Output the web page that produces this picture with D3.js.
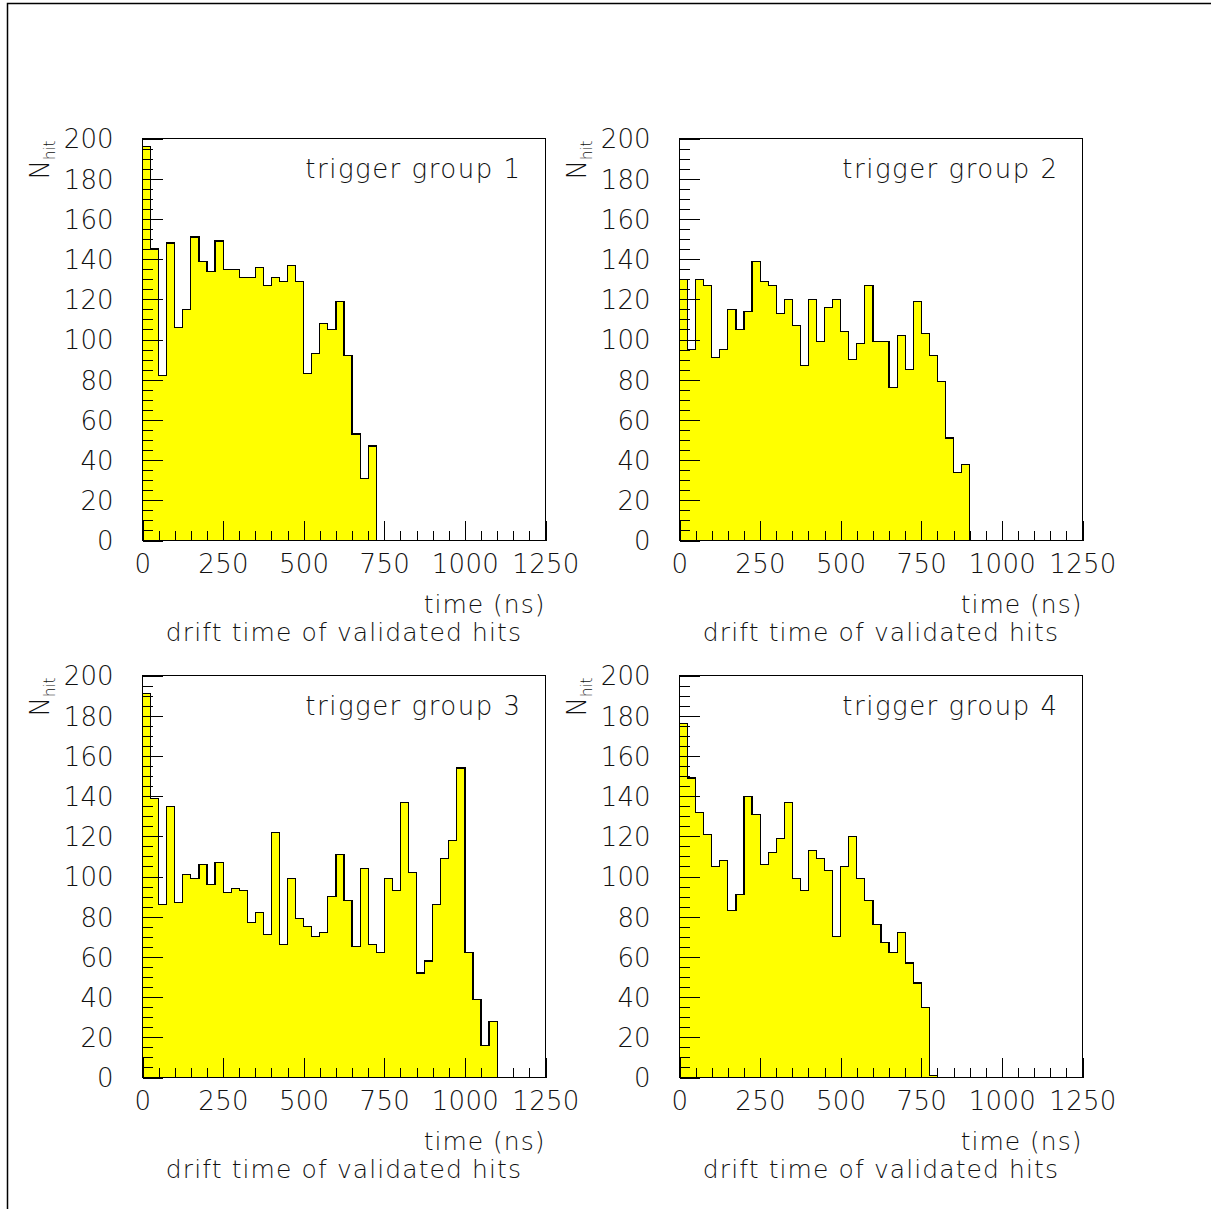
<!DOCTYPE html>
<html>
<head>
<meta charset="utf-8">
<script src="https://cdn.jsdelivr.net/npm/d3@7"></script>
<style>
  body { margin: 0; background: #fff; }
  text { font-family: "DejaVu Sans", sans-serif; font-weight: 200; fill: #111; }
</style>
</head>
<body>
<div id="vis"></div>
<script>
// bin width in ns, histograms go from 0 to 1250 ns
const BIN_WIDTH = 25;
const X_MAX = 1250;
const Y_MAX = 200;
const X_TICKS = [0, 250, 500, 750, 1000, 1250];
const Y_TICKS = [0, 20, 40, 60, 80, 100, 120, 140, 160, 180, 200];

// hits per 25 ns bin (bins after the last one are empty)
const group1 = [196, 145, 82, 148, 106, 115, 151, 139, 134, 149, 135, 135, 131, 131, 136,
                127, 131, 129, 137, 129, 83, 93, 108, 105, 119, 92, 53, 31, 47];
const group2 = [130, 95, 130, 127, 91, 95, 115, 105, 114, 139, 129, 127, 113, 120, 107,
                87, 120, 99, 116, 120, 104, 90, 98, 127, 99, 99, 76, 102, 85, 119,
                103, 92, 79, 51, 34, 38];
const group3 = [191, 139, 86, 135, 87, 101, 99, 106, 96, 107, 92, 94, 93, 77, 82,
                71, 122, 66, 99, 79, 75, 70, 72, 90, 111, 88, 65, 104, 66, 62,
                99, 93, 137, 102, 52, 58, 86, 109, 118, 154, 62, 39, 16, 28];
const group4 = [176, 149, 132, 121, 105, 108, 83, 91, 140, 131, 106, 112, 119, 137, 99,
                93, 113, 109, 103, 70, 105, 120, 99, 88, 76, 67, 62, 72, 57, 47,
                35, 1];

const groups = [group1, group2, group3, group4];
const titles = ["trigger group 1", "trigger group 2", "trigger group 3", "trigger group 4"];
const xTitle = "time (ns)";
const histTitle = "drift time of validated hits";

function init() {
    const W = 1211, H = 1209;
    const svg = d3.select('#vis')
        .append('svg')
        .attr('width', W)
        .attr('height', H);

    // page border (top + left)
    svg.append('path')
        .attr('d', 'M7.5,1209 L7.5,3.5 L1211,3.5')
        .attr('fill', 'none')
        .attr('stroke', '#000')
        .attr('stroke-width', 1.5);

    const pw = 403, ph = 402;
    const origins = [[142, 138], [679, 138], [142, 675], [679, 675]];

    groups.forEach((values, k) => {
        drawPanel(svg, values, titles[k], origins[k][0], origins[k][1], pw, ph);
    });
}

function drawPanel(svg, values, title, left, top, width, height) {
    const g = svg.append('g')
        .attr('transform', `translate(${left + 0.5},${top + 0.5})`);

    const xScale = d3.scaleLinear().domain([0, X_MAX]).range([0, width]);
    const yScale = d3.scaleLinear().domain([0, Y_MAX]).range([height, 0]);

    // histogram, step outline filled yellow
    const pts = values.map((v, i) => [i * BIN_WIDTH, v]);
    pts.push([values.length * BIN_WIDTH, values[values.length - 1]]);
    const area = d3.area()
        .x(d => xScale(d[0]))
        .y0(yScale(0))
        .y1(d => yScale(d[1]))
        .curve(d3.curveStepAfter);
    g.append('path')
        .datum(pts)
        .attr('d', area)
        .attr('fill', '#ffff00')
        .attr('stroke', '#000')
        .attr('stroke-width', 1.2)
        .attr('shape-rendering', 'crispEdges');

    // frame
    g.append('rect')
        .attr('width', width)
        .attr('height', height)
        .attr('fill', 'none')
        .attr('stroke', '#000')
        .attr('stroke-width', 1.2)
        .attr('shape-rendering', 'crispEdges');

    // minor ticks
    g.append('g')
        .attr('transform', `translate(0,${height})`)
        .call(d3.axisBottom(xScale).tickValues(d3.range(0, X_MAX + 1, 50))
            .tickSizeInner(-10).tickSizeOuter(0).tickFormat(''));
    g.append('g')
        .call(d3.axisLeft(yScale).tickValues(d3.range(0, Y_MAX + 1, 5))
            .tickSizeInner(-10).tickSizeOuter(0).tickFormat(''));

    // major ticks + labels
    const xAxis = g.append('g')
        .attr('transform', `translate(0,${height})`)
        .call(d3.axisBottom(xScale).tickValues(X_TICKS)
            .tickSizeInner(-20).tickSizeOuter(0).tickPadding(14)
            .tickFormat(d3.format('d')));
    const yAxis = g.append('g')
        .call(d3.axisLeft(yScale).tickValues(Y_TICKS)
            .tickSizeInner(-20).tickSizeOuter(0).tickPadding(29)
            .tickFormat(d3.format('d')));

    g.selectAll('.domain').remove();
    g.selectAll('.tick line').attr('stroke', '#000').attr('shape-rendering', 'crispEdges');
    xAxis.selectAll('text').style('font-size', '26px').style('letter-spacing', '0.3px')
        .style('font-family', '"DejaVu Sans", sans-serif').attr('fill', '#111');
    yAxis.selectAll('text').style('font-size', '26px')
        .style('font-family', '"DejaVu Sans", sans-serif').attr('fill', '#111')
        .attr('dy', '0.36em');

    // titles
    g.append('text')
        .attr('x', width - 24)
        .attr('y', 39)
        .attr('text-anchor', 'end')
        .style('font-size', '26px')
        .style('letter-spacing', '1.5px')
        .text(title);

    g.append('text')
        .attr('x', width)
        .attr('y', height + 72)
        .attr('text-anchor', 'end')
        .style('font-size', '25px')
        .style('letter-spacing', '1px')
        .text(xTitle);

    g.append('text')
        .attr('x', width / 2)
        .attr('y', height + 100)
        .attr('text-anchor', 'middle')
        .style('font-size', '25px')
        .style('letter-spacing', '1.1px')
        .text(histTitle);

    // N_hit, rotated
    const yl = g.append('text')
        .attr('transform', `translate(${-94},2) rotate(-90)`)
        .attr('text-anchor', 'end')
        .style('font-size', '26px');
    yl.append('tspan').text('N');
    yl.append('tspan').attr('dy', 6).style('font-size', '15px').text('hit');
}

window.addEventListener('load', init);
</script>
</body>
</html>
